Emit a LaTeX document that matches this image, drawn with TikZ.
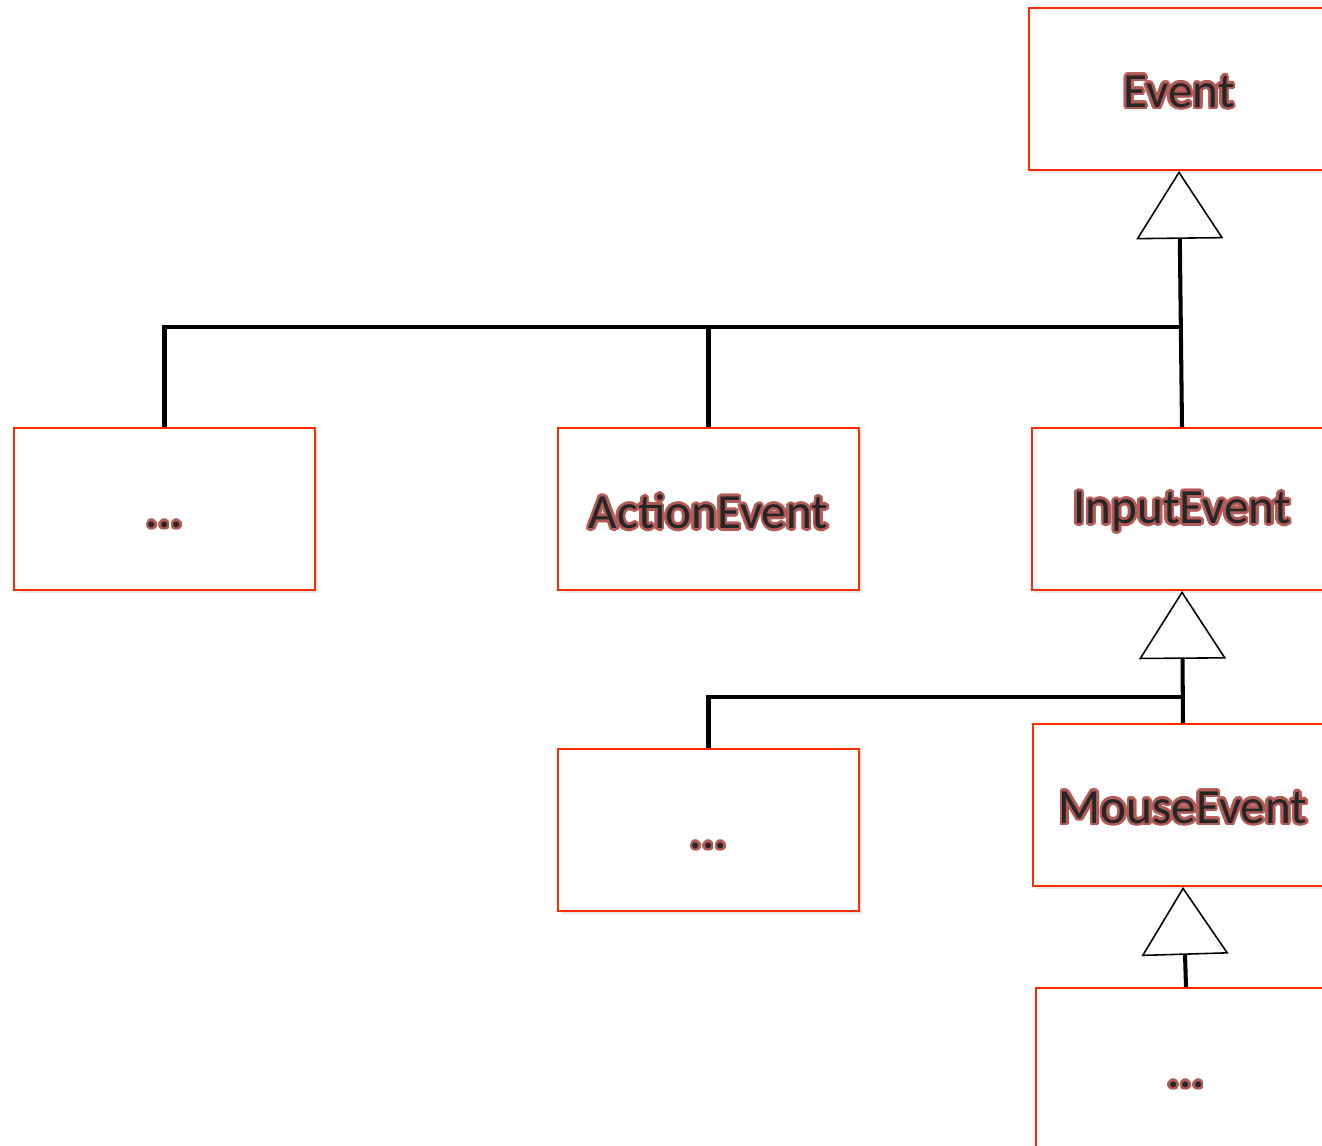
\documentclass[tikz,border=0pt]{standalone}
\usepackage{fontspec}
\setmainfont{Carlito}
\usepackage[copies]{contour}
\usetikzlibrary{arrows.meta,shadows}
\definecolor{boxred}{HTML}{FF2A00}
\definecolor{glow}{HTML}{B25A55}
\contourlength{1.5pt}
\contournumber{16}
% dark class name with a reddish halo
\newcommand{\cls}[1]{\raisebox{-0.08cm}[\height][\depth]{\contour{glow}{\color{black!85}#1}}}

\begin{document}
\begin{tikzpicture}
  [x=0.02cm,y=-0.02cm,
   classbox/.style={draw=boxred,fill=white,line width=1.1pt,
     minimum width=6.02cm,minimum height=3.24cm,
     font=\fontsize{28}{32}\selectfont,
     drop shadow={opacity=0.18,shadow xshift=1.5pt,shadow yshift=-1.5pt}},
   link/.style={draw,line width=2.3pt},
   inherit/.style={link,-{Triangle[open,length=1.36cm,width=1.74cm,line width=0.9pt]}}]
  \useasboundingbox (0,0) rectangle (1322,1146);
  \clip (0,0) rectangle (1322,1146);

  \node[classbox] (event)  at (1179,89)   {\cls{Event}};
  \node[classbox] (other)  at (164.5,509) {\cls{...}\vphantom{Ev}};
  \node[classbox] (action) at (708.5,509) {\cls{ActionEvent}};
  \node[classbox] (input)  at (1182,509)  {\cls{InputEvent}};
  \node[classbox] (more)   at (708.5,830) {\cls{...}\vphantom{Ev}};
  \node[classbox] (mouse)  at (1183,805)  {\cls{MouseEvent}};
  \node[classbox] (sub)    at (1186,1069) {\cls{...}\vphantom{Ev}};

  \coordinate (j1) at (1180,327);
  \coordinate (j2) at (1183,697);

  \draw[inherit] (input.north) -- (event.south);
  \draw[link] (other.north) |- (j1);
  \draw[link] (action.north) -- (action.north |- j1);

  \draw[inherit] (mouse.north) -- (input.south);
  \draw[link] (more.north) |- (j2);

  \draw[inherit] (sub.north) -- (mouse.south);

\end{tikzpicture}
\end{document}
